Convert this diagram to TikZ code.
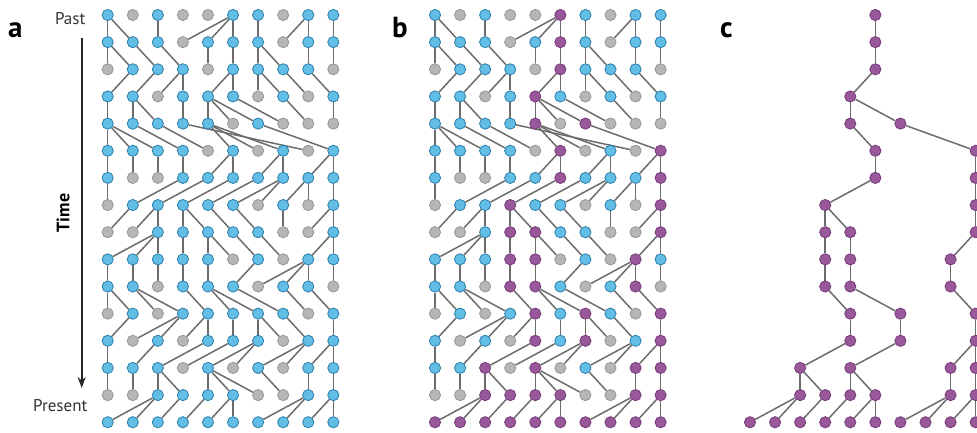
\documentclass[tikz,border=0pt]{standalone}
\usepackage{fontspec}
\setmainfont{PT Sans}
\usetikzlibrary{arrows.meta,backgrounds}

\definecolor{bluefill}{RGB}{98,190,228}
\definecolor{bluedraw}{RGB}{44,126,170}
\definecolor{grayfill}{RGB}{182,182,182}
\definecolor{graydraw}{RGB}{150,150,150}
\definecolor{purplefill}{RGB}{152,88,154}
\definecolor{purpledraw}{RGB}{118,58,120}
\definecolor{edgecol}{RGB}{108,108,108}

\tikzstyle{bluenode}=[circle, fill=bluefill, draw=bluedraw, line width=0.8, minimum size=11.2, inner sep=0]
\tikzstyle{graynode}=[circle, fill=grayfill, draw=graydraw, line width=0.8, minimum size=11.2, inner sep=0]
\tikzstyle{purplenode}=[circle, fill=purplefill, draw=purpledraw, line width=0.8, minimum size=11.2, inner sep=0]
\tikzstyle{edge}=[edgecol, line width=1.5]
\tikzstyle{panel}=[anchor=base west, inner sep=0, font=\bfseries\fontsize{29}{29}\selectfont]
\tikzstyle{timelabel}=[anchor=base east, inner sep=0, font=\fontsize{17}{17}\selectfont, text=black!80]

% row / {kind/parent column}: kind 0 = no offspring, 1 = offspring, 2 = ancestor of the sample
\def\genealogy{%
 0/{1/0,0/0,1/0,0/0,0/0,2/0,1/0,0/0,1/0,1/0},
 1/{1/0,1/0,1/2,0/5,1/5,2/5,1/6,0/8,1/8,1/9},
 2/{0/0,1/0,1/1,1/2,0/4,2/5,1/6,1/6,1/8,0/9},
 3/{1/1,1/2,0/3,1/3,2/5,1/5,0/6,1/6,0/7,1/8},
 4/{1/0,1/1,1/1,1/3,2/4,0/4,2/4,0/5,0/7,0/9},
 5/{1/0,1/0,1/0,1/1,0/2,2/4,0/4,1/4,0/3,2/6},
 6/{1/0,0/1,0/2,1/3,1/5,2/5,1/7,1/7,1/9,2/9},
 7/{0/0,1/3,1/4,2/5,1/6,1/7,0/7,1/8,0/8,2/9},
 8/{0/1,0/2,1/2,2/3,2/3,1/4,1/5,0/7,0/9,2/9},
 9/{1/2,1/2,1/2,2/3,2/4,0/4,1/5,0/6,2/9,1/9},
 10/{1/0,1/1,0/2,2/3,2/4,1/6,0/8,1/8,2/8,0/9},
 11/{0/0,1/0,0/1,1/1,2/3,1/4,2/4,1/5,0/7,2/8},
 12/{1/1,0/3,1/3,0/4,2/4,1/5,2/6,0/6,1/7,2/9},
 13/{1/0,1/2,2/4,0/5,2/6,0/6,1/8,0/8,2/9,2/9},
 14/{0/0,0/1,2/2,2/2,2/4,2/4,0/4,0/6,2/8,2/9},
 15/{2/2,2/2,2/3,2/4,2/5,2/5,2/8,2/8,2/9,2/9}}

% #1 prefix, #2 x of first column, #3 style for kind 2, #4 lowest kind drawn
\newcommand{\drawgenealogy}[4]{
  \foreach \r/\row in \genealogy {
    \foreach \k/\p [count=\c from 0] in \row {
      \ifnum\k<#4\relax\else
        \ifcase\k\def\st{graynode}\or\def\st{bluenode}\or\def\st{#3}\fi
        \node[\st] (#1-\r-\c) at ({#2+\c*25.07},{15+\r*27.15}) {};
      \fi
    }
  }
  \begin{pgfonlayer}{background}
  \foreach \r/\row in \genealogy {
    \ifnum\r>0
      \pgfmathtruncatemacro{\up}{\r-1}
      \foreach \k/\p [count=\c from 0] in \row {
        \ifnum\k<#4\relax\else
          \draw[edge] (#1-\r-\c) -- (#1-\up-\p);
        \fi
      }
    \fi
  }
  \end{pgfonlayer}
}

\begin{document}
\begin{tikzpicture}[x=1pt, y=-1pt]
  \useasboundingbox (0,0) rectangle (977,433);

  % time axis
  \node[timelabel] (past) at (85.5,24.5) {Past};
  \node[timelabel] (present) at (87.5,411) {Present};
  \coordinate (tstart) at (81.7,38);
  \coordinate (tend) at (81.7,388);
  \draw[black!85, line width=1.8, -{Stealth[length=11, width=8]}] (tstart) -- (tend);
  \node[rotate=90, inner sep=0, font=\bfseries\fontsize{18}{18}\selectfont] (time) at (63,213) {Time};

  % panels
  \node[panel] (la) at (8,38) {a};
  \node[panel] (lb) at (392,38) {b};
  \node[panel] (lc) at (720,38) {c};

  \drawgenealogy{a}{107.7}{bluenode}{0}
  \drawgenealogy{b}{435}{purplenode}{0}
  \drawgenealogy{c}{750}{purplenode}{2}
\end{tikzpicture}
\end{document}
